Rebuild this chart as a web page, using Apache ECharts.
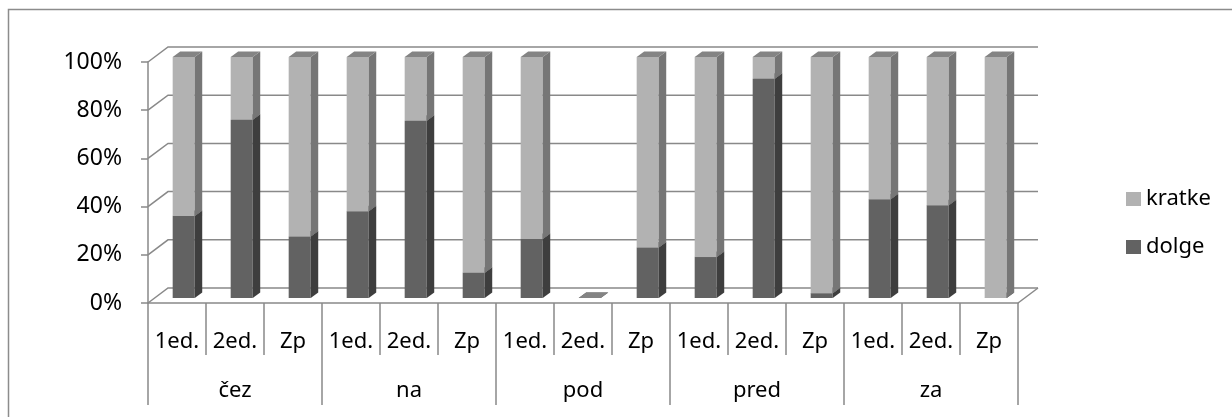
<!DOCTYPE html>
<html>
<head>
<meta charset="utf-8">
<title>dolge / kratke</title>
<script src="https://cdn.jsdelivr.net/npm/echarts@6/dist/echarts.min.js"></script>
<style>
  html, body { margin: 0; padding: 0; background: #ffffff; }
  #chart { width: 1232px; height: 417px; }
</style>
</head>
<body>
<div id="chart"></div>
<script>
// Groups and sub-categories of the two-level category axis
const groups = ['čez', 'na', 'pod', 'pred', 'za'];
const subLabels = ['1ed.', '2ed.', 'Zp'];
const categories = groups.flatMap(() => subLabels);

// Shares in percent (100 % stacked); pod / 2ed. has no entries
const dolge  = [34, 74, 25.5, 36, 73.5, 10.5, 24.5, 0, 21, 17, 91, 2, 41, 38.5, 0];
const kratke = [66, 26, 74.5, 64, 26.5, 89.5, 75.5, 0, 79, 83, 9, 98, 59, 61.5, 100];

// Value axis ticks (percent)
const yTicks = [0, 20, 40, 60, 80, 100];

// Pseudo-3D geometry (pixels)
const WALL_DX = 20, WALL_DY = 15;   // depth of floor / back wall
const BAR_OX = 6.7, BAR_OY = 5;     // bar front face behind the front plane
const BAR_DX = 7.5, BAR_DY = 5.5;   // depth of each column
const BAR_RATIO = 0.38;             // column width / category width

const GRID_COLOR = '#898989';
const FONT = "'Noto Sans', 'DejaVu Sans', sans-serif";

const palette = {
  kratke: { front: '#b2b2b2', side: '#767676', top: '#848484' },
  dolge:  { front: '#626262', side: '#3e3e3e', top: '#4f4f4f' }
};

// Draws one column segment as front, side and top faces
function columnRenderer(colors) {
  return function (params, api) {
    const i = api.value(0);
    const base = api.value(1);
    const val = api.value(2);
    const pBase = api.coord([i, base]);
    const pTop = api.coord([i, base + val]);
    const bw = api.size([1, 0])[0] * BAR_RATIO;
    const x0 = pBase[0] + BAR_OX - bw / 2;
    const x1 = x0 + bw;
    const yb = pBase[1] - BAR_OY;
    const yt = pTop[1] - BAR_OY;
    return {
      type: 'group',
      children: [
        {
          type: 'rect',
          shape: { x: x0, y: yt, width: bw, height: yb - yt },
          style: { fill: colors.front }
        },
        {
          type: 'polygon',
          shape: { points: [[x1, yb], [x1, yt], [x1 + BAR_DX, yt - BAR_DY], [x1 + BAR_DX, yb - BAR_DY]] },
          style: { fill: colors.side }
        },
        {
          type: 'polygon',
          shape: { points: [[x0, yt], [x1, yt], [x1 + BAR_DX, yt - BAR_DY], [x0 + BAR_DX, yt - BAR_DY]] },
          style: { fill: colors.top }
        }
      ]
    };
  };
}

// Gridlines running over the side edge and across the back wall, plus floor edge
function wallRenderer(params, api) {
  const cs = params.coordSys;
  const v = api.value(1);
  const y = api.coord([0, v])[1];
  const xl = cs.x, xr = cs.x + cs.width;
  const children = [{
    type: 'polyline',
    shape: { points: [[xl, y], [xl + WALL_DX, y - WALL_DY], [xr + WALL_DX, y - WALL_DY]] },
    style: { stroke: GRID_COLOR, lineWidth: 1.5, fill: 'none' }
  }];
  if (v === yTicks[0]) {
    children.push({
      type: 'line',
      shape: { x1: xr, y1: y, x2: xr + WALL_DX, y2: y - WALL_DY },
      style: { stroke: GRID_COLOR, lineWidth: 1.5 }
    });
  }
  return { type: 'group', children: children };
}

const chart = echarts.init(document.getElementById('chart'), null, { renderer: 'canvas' });

chart.setOption({
  animation: false,
  backgroundColor: '#ffffff',
  textStyle: { fontFamily: FONT, color: '#000000' },
  graphic: [{
    type: 'rect',
    silent: true,
    z: -10,
    shape: { x: 8.5, y: 9.5, width: 1400, height: 600 },
    style: { fill: 'none', stroke: '#8c8c8c', lineWidth: 1.5 }
  }],
  legend: {
    orient: 'vertical',
    left: 1121,
    top: 183,
    itemWidth: 15,
    itemHeight: 14,
    itemGap: 26,
    icon: 'rect',
    data: ['kratke', 'dolge'],
    textStyle: { fontFamily: FONT, fontSize: 22, color: '#000000' }
  },
  grid: { left: 148, top: 62, width: 870, height: 241, containLabel: false },
  xAxis: [
    {
      type: 'category',
      data: categories,
      boundaryGap: true,
      axisLine: { show: true, lineStyle: { color: GRID_COLOR, width: 1.5 } },
      axisTick: { show: true, interval: 0, length: 52, lineStyle: { color: GRID_COLOR, width: 1.5 } },
      axisLabel: { interval: 0, margin: 39, verticalAlign: 'middle', fontFamily: FONT, fontSize: 22, color: '#000000' },
      splitLine: { show: false }
    },
    {
      type: 'category',
      data: groups,
      position: 'bottom',
      boundaryGap: true,
      axisLine: { show: false },
      axisTick: { show: true, interval: 0, length: 102, lineStyle: { color: GRID_COLOR, width: 1.5 } },
      axisLabel: { interval: 0, margin: 88, verticalAlign: 'middle', fontFamily: FONT, fontSize: 22, color: '#000000' },
      splitLine: { show: false }
    }
  ],
  yAxis: {
    type: 'value',
    min: 0,
    max: 100,
    interval: 20,
    axisLine: { show: true, lineStyle: { color: GRID_COLOR, width: 1.5 } },
    axisTick: { show: true, length: 7, lineStyle: { color: GRID_COLOR, width: 1.5 } },
    axisLabel: { margin: 26, formatter: '{value}%', fontFamily: FONT, fontSize: 23, color: '#000000' },
    splitLine: { show: false }
  },
  series: [
    {
      name: 'walls',
      type: 'custom',
      silent: true,
      z: 1,
      renderItem: wallRenderer,
      encode: { x: 0, y: 1 },
      data: yTicks.map(v => [0, v])
    },
    {
      name: 'dolge',
      type: 'custom',
      z: 2,
      itemStyle: { color: '#626262' },
      renderItem: columnRenderer(palette.dolge),
      encode: { x: 0, y: 2 },
      data: dolge.map((v, i) => [i, 0, v])
    },
    {
      name: 'kratke',
      type: 'custom',
      z: 3,
      itemStyle: { color: '#b2b2b2' },
      renderItem: columnRenderer(palette.kratke),
      encode: { x: 0, y: 2 },
      data: kratke.map((v, i) => [i, dolge[i], v])
    }
  ]
});
</script>
</body>
</html>
